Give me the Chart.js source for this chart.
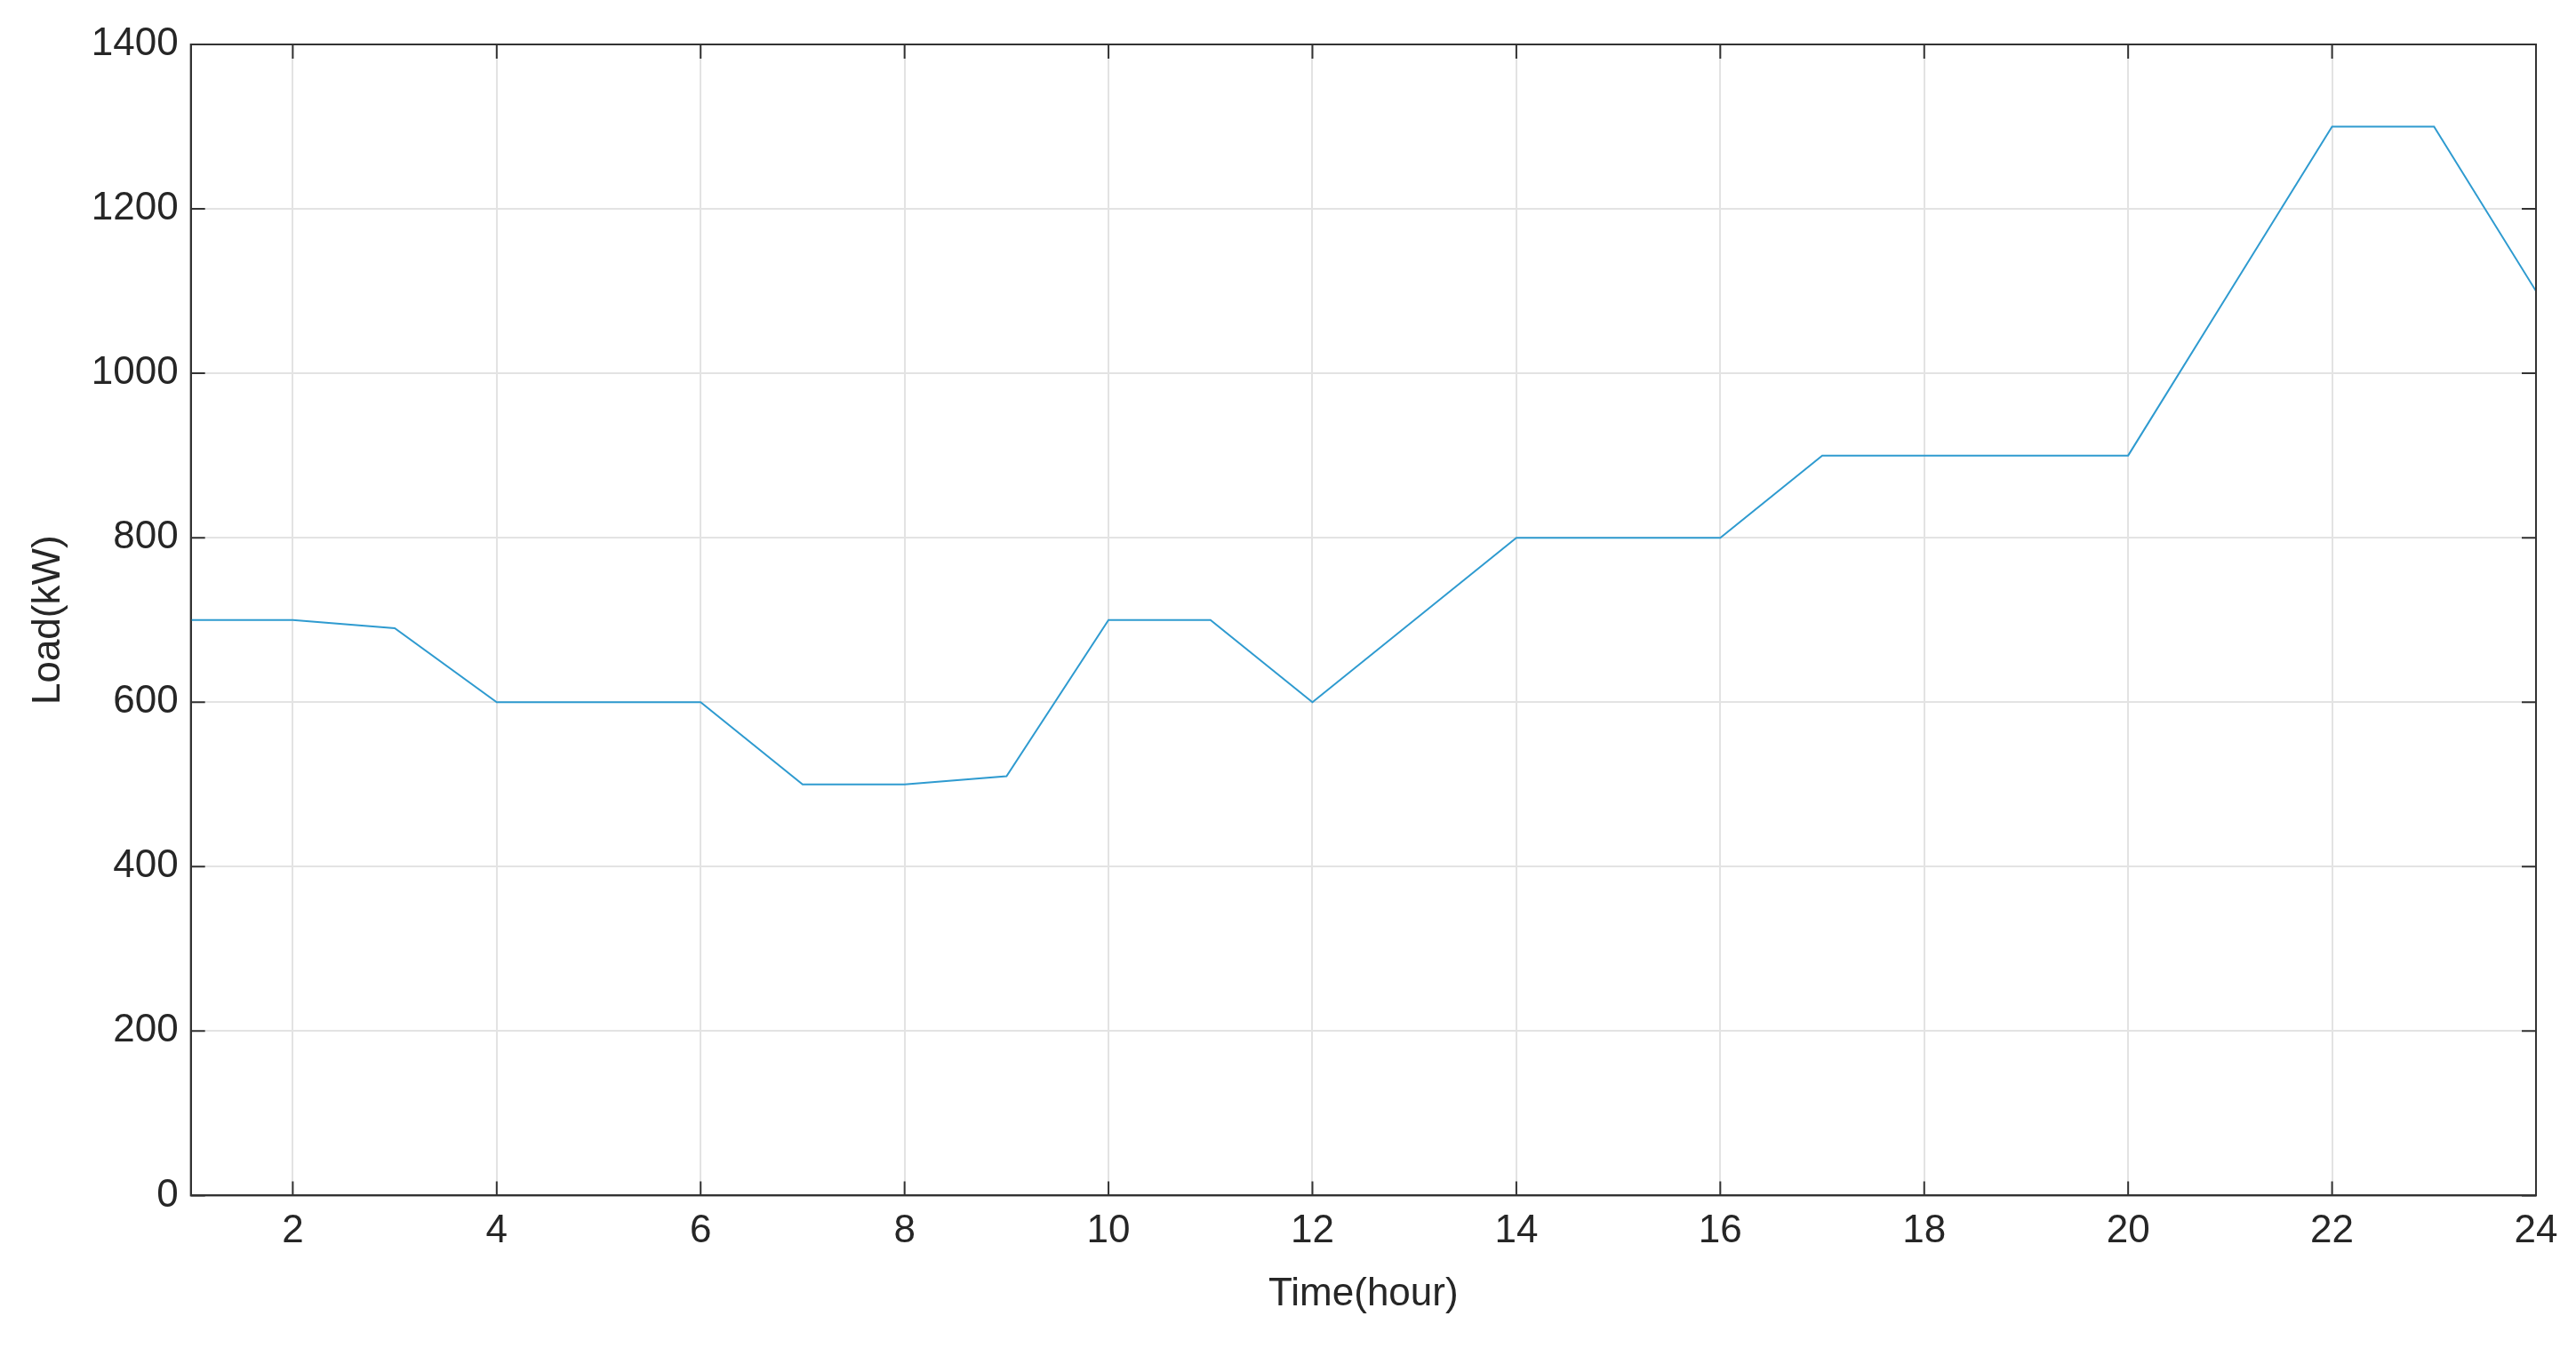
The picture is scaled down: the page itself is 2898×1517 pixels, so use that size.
<!DOCTYPE html>
<html><head><meta charset="utf-8">
<script src="https://cdn.jsdelivr.net/npm/chart.js@4"></script>
<style>html,body{margin:0;background:#fff}#wrap{width:2898px;height:1517px}</style>
</head><body><div id="wrap"><canvas id="c"></canvas></div>
<script>
const hours = [1,2,3,4,5,6,7,8,9,10,11,12,13,14,15,16,17,18,19,20,21,22,23,24];
const load = [700,700,690,600,600,600,500,500,510,700,700,600,700,800,800,800,900,900,900,900,1100,1300,1300,1100];
const xTicks = [2,4,6,8,10,12,14,16,18,20,22,24];

const tickFont = { family: 'Arial, Liberation Sans, sans-serif', size: 44 };
new Chart(document.getElementById('c'), {
    type: 'line',
    data: { datasets: [{ data: hours.map((h, i) => ({ x: h, y: load[i] })), borderColor: '#2f9bd0', borderWidth: 2, pointRadius: 0, tension: 0 }] },
    options: {
        responsive: true, maintainAspectRatio: false, animation: false, devicePixelRatio: 1,
        layout: { padding: { top: 50, right: 45, bottom: 30, left: 20 } },
        plugins: { legend: { display: false }, tooltip: { enabled: false } },
        scales: {
            x: {
                type: 'linear', min: 1, max: 24,
                afterBuildTicks: s => { s.ticks = xTicks.map(v => ({ value: v })); },
                grid: { color: '#e3e3e3', lineWidth: 2, drawTicks: false },
                border: { color: '#333', width: 2 },
                ticks: { color: '#262626', font: tickFont, padding: 14, maxRotation: 0, callback: v => String(v) },
                title: { display: true, text: 'Time(hour)', color: '#262626', font: tickFont, padding: 4 }
            },
            y: {
                min: 0, max: 1400,
                ticks: { stepSize: 200, color: '#262626', font: tickFont, padding: 14, callback: v => String(v) },
                grid: { color: '#e3e3e3', lineWidth: 2, drawTicks: false },
                border: { color: '#333', width: 2 },
                title: { display: true, text: 'Load(kW)', color: '#262626', font: tickFont, padding: 8 }
            }
        }
    },
    plugins: [{
        id: 'box',
        afterDraw(ch) {
            const { ctx, chartArea: a } = ch;
            ctx.save();
            ctx.strokeStyle = '#333'; ctx.lineWidth = 2;
            ctx.strokeRect(a.left, a.top, a.right - a.left, a.bottom - a.top);
            ctx.beginPath();
            ch.scales.x.ticks.forEach(t => {
                const px = ch.scales.x.getPixelForValue(t.value);
                ctx.moveTo(px, a.bottom); ctx.lineTo(px, a.bottom - 16);
                ctx.moveTo(px, a.top); ctx.lineTo(px, a.top + 16);
            });
            ch.scales.y.ticks.forEach(t => {
                const py = ch.scales.y.getPixelForValue(t.value);
                ctx.moveTo(a.left, py); ctx.lineTo(a.left + 16, py);
                ctx.moveTo(a.right, py); ctx.lineTo(a.right - 16, py);
            });
            ctx.stroke();
            ctx.restore();
        }
    }]
});
</script></body></html>
